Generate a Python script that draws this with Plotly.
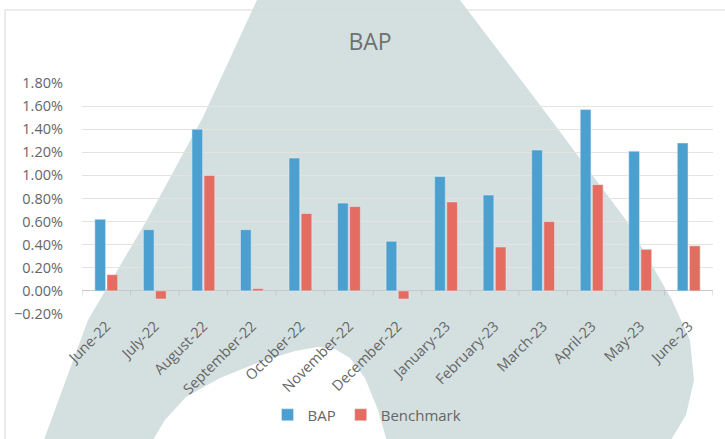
import plotly.graph_objects as go

categories = ["June-22", "July-22", "August-22", "September-22", "October-22",
              "November-22", "December-22", "January-23", "February-23",
              "March-23", "April-23", "May-23", "June-23"]
bap = [0.62, 0.53, 1.40, 0.53, 1.15, 0.76, 0.43, 0.99, 0.83, 1.22, 1.57, 1.21, 1.28]
benchmark = [0.14, -0.07, 1.00, 0.02, 0.67, 0.73, -0.07, 0.77, 0.38, 0.60, 0.92, 0.36, 0.39]
tick_vals = [-0.2, 0.0, 0.2, 0.4, 0.6, 0.8, 1.0, 1.2, 1.4, 1.6, 1.8]

W, H = 725, 439
L, R, T, B = 82, 12, 83, 125
PW, PH = W - L - R, H - T - B

def px(x, y):
    return (x - L) / PW, (H - B - y) / PH

def path(points):
    s = ""
    for i, (x, y) in enumerate(points):
        a, b = px(x, y)
        s += ("M" if i == 0 else "L") + f"{a:.4f},{b:.4f} "
    return s + "Z"

# background watermark (decorative "A" shape)
wm = [(257, 0), (460, 0), (540, 105), (626, 220), (672, 300), (690, 340),
      (694, 380), (686, 415), (668, 445), (388, 445), (378, 410), (365, 378),
      (350, 358), (335, 349), (318, 347), (295, 351), (260, 362), (220, 378),
      (186, 397), (165, 420), (150, 445), (42, 445), (88, 320), (147, 220),
      (203, 117)]

fig = go.Figure()
fig.add_trace(go.Bar(name="BAP", x=categories, y=[v / 100 for v in bap],
                     marker_color="#4ba0cf"))
fig.add_trace(go.Bar(name="Benchmark", x=categories, y=[v / 100 for v in benchmark],
                     marker_color="#e56c60"))

shapes = [
    dict(type="path", xref="paper", yref="paper", path=path(wm),
         fillcolor="#d4e0e0", line=dict(width=0), layer="below"),
]
# chart frame
x0, y0 = px(5, 10)
x1, y1 = px(740, 450)
shapes.append(dict(type="rect", xref="paper", yref="paper", x0=x0, y0=y1, x1=x1, y1=y0,
                   line=dict(color="#d9d9d9", width=1), fillcolor="rgba(0,0,0,0)",
                   layer="below"))
# category-boundary tick marks on the zero axis
for i in range(len(categories) + 1):
    shapes.append(dict(type="line", xref="x", yref="y", x0=i - 0.5, x1=i - 0.5,
                       y0=0, y1=-0.0004, line=dict(color="#c8c8c8", width=1)))

fig.update_layout(
    width=W, height=H,
    margin=dict(l=L, r=R, t=T, b=B, autoexpand=False),
    paper_bgcolor="white", plot_bgcolor="rgba(0,0,0,0)",
    font=dict(family="Open Sans", color="#666666"),
    title=dict(text="BAP", x=370 / W, xref="container", y=1 - 42 / H,
               yref="container", xanchor="center", yanchor="middle",
               font=dict(size=23, color="#707070")),
    barmode="group", bargap=0.5, bargroupgap=0.12,
    showlegend=True,
    legend=dict(orientation="h", x=(367 - L) / PW, xanchor="center",
                y=(H - B - 415) / PH, yanchor="middle", itemwidth=30,
                font=dict(size=15, color="#666666"), bgcolor="rgba(0,0,0,0)"),
    shapes=shapes,
)
fig.update_xaxes(type="category", tickangle=-45, tickfont=dict(size=14.5, color="#666666"),
                 showgrid=False, showline=False, ticks="", automargin=False,
                 range=[-0.5, len(categories) - 0.5])
fig.update_yaxes(range=[-0.002, 0.018], tickvals=[v / 100 for v in tick_vals],
                 tickformat=".2%", tickfont=dict(size=14.5, color="#666666"),
                 showgrid=True, gridcolor="#e6e2de", gridwidth=1, automargin=False,
                 zeroline=True, zerolinecolor="#c8c8c8", zerolinewidth=1,
                 showline=False, ticks="", ticklabelstandoff=18)

fig.write_html("out.html", config={"displayModeBar": False},
               post_script="document.body.style.margin='0';")
